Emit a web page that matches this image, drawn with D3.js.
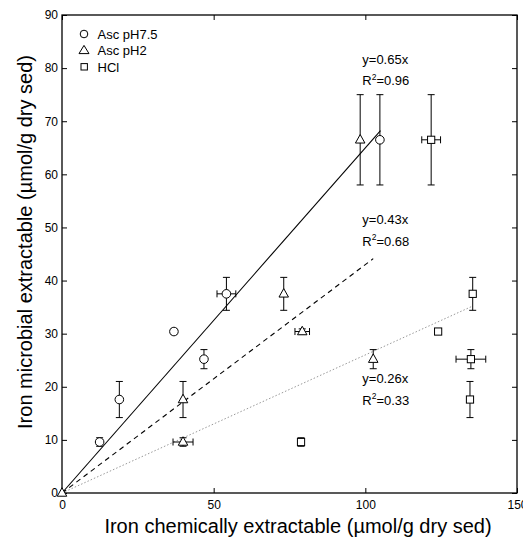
<!DOCTYPE html>
<html>
<head>
<meta charset="utf-8">
<script src="https://cdn.jsdelivr.net/npm/d3@7"></script>
<style>
  html, body { margin: 0; padding: 0; background: #fff; }
  svg { display: block; font-family: "Liberation Sans", Arial, Helvetica, sans-serif; }
</style>
</head>
<body>
<svg id="chart" width="523" height="538"></svg>
<script>
// Microbial vs chemical extractable iron, three extraction methods
const seriesNames = ["Asc pH7.5", "Asc pH2", "HCl"];
const seriesSymbols = ["circle", "triangle", "square"];

// microbial extractable (y) with its error, shared by the three methods
const microbialY   = [9.6, 17.6, 30.4, 25.2, 37.5, 66.5];
const microbialErr = [0.8, 3.4, 0.5, 1.8, 3.1, 8.5];

// chemically extractable (x) for each method, with x errors
const ascPH75X    = [12.4, 18.9, 36.9, 46.8, 54.2, 104.8];
const ascPH75XErr = [0, 0, 0, 0, 3.1, 0];
const ascPH2X     = [39.9, 39.9, 79.2, 102.6, 73.1, 98.3];
const ascPH2XErr  = [3.3, 0, 2.4, 0, 0, 0];
const hclX        = [78.8, 134.5, 124.0, 134.8, 135.4, 121.7];
const hclXErr     = [0, 1.0, 0, 4.9, 0, 3.1];

// fits through the origin
const fitSlopes = [0.65, 0.43, 0.26];
const fitR2     = ["0.96", "0.68", "0.33"];
const fitXEnd   = [105, 102.6, 135.4];
const fitLabelPos = [[99, 80.8], [99, 50.6], [99, 20.7]];

const xTicks = [0, 50, 100, 150];
const yTicks = [0, 10, 20, 30, 40, 50, 60, 70, 80, 90];

const svg = d3.select("#chart");
const m = { left: 62, right: 6, top: 15, bottom: 45 };
const W = 523, H = 538;
const x = d3.scaleLinear().domain([0, 150]).range([m.left, W - m.right]);
const y = d3.scaleLinear().domain([0, 90]).range([H - m.bottom, m.top]);

// frame
svg.append("rect")
  .attr("x", x(0)).attr("y", y(90))
  .attr("width", x(150) - x(0)).attr("height", y(0) - y(90))
  .attr("fill", "none").attr("stroke", "#000").attr("stroke-width", 1.3);

// axes with inward ticks (mirrored on top/right)
const tickLen = 5;
const gx = svg.append("g").attr("transform", `translate(0,${y(0)})`)
  .call(d3.axisBottom(x).tickValues(xTicks).tickSizeInner(-tickLen).tickSizeOuter(0).tickPadding(7));
const gy = svg.append("g").attr("transform", `translate(${x(0)},0)`)
  .call(d3.axisLeft(y).tickValues(yTicks).tickSizeInner(-tickLen).tickSizeOuter(0).tickPadding(4));
const gxt = svg.append("g").attr("transform", `translate(0,${y(90)})`)
  .call(d3.axisTop(x).tickValues(xTicks).tickSizeInner(-tickLen).tickSizeOuter(0).tickFormat(""));
const gyr = svg.append("g").attr("transform", `translate(${x(150)},0)`)
  .call(d3.axisRight(y).tickValues(yTicks).tickSizeInner(-tickLen).tickSizeOuter(0).tickFormat(""));
[gx, gy, gxt, gyr].forEach(g => {
  g.select(".domain").remove();
  g.selectAll("line").attr("stroke", "#000").attr("stroke-width", 1);
  g.selectAll("text").attr("font-size", 12).attr("fill", "#000")
    .attr("font-family", "Liberation Sans, Arial, sans-serif");
});

// axis titles
svg.append("text")
  .attr("x", 298).attr("y", 533)
  .attr("text-anchor", "middle").attr("font-size", 20)
  .text("Iron chemically extractable (\u00b5mol/g dry sed)");
svg.append("text")
  .attr("transform", `translate(32,242) rotate(-90)`)
  .attr("text-anchor", "middle").attr("font-size", 20)
  .text("Iron microbial extractable (\u00b5mol/g dry sed)");

// regression lines
const lineStyles = [
  { dash: null, color: "#000", width: 1.1 },
  { dash: "5,4", color: "#000", width: 1.1 },
  { dash: "1.5,2", color: "#999", width: 1 }
];
fitSlopes.forEach((s, i) => {
  svg.append("line")
    .attr("x1", x(0)).attr("y1", y(0))
    .attr("x2", x(fitXEnd[i])).attr("y2", y(s * fitXEnd[i]))
    .attr("stroke", lineStyles[i].color)
    .attr("stroke-width", lineStyles[i].width)
    .attr("stroke-dasharray", lineStyles[i].dash);
});

// fit annotations
fitSlopes.forEach((s, i) => {
  const [lx, ly] = fitLabelPos[i];
  svg.append("text").attr("x", x(lx)).attr("y", y(ly))
    .attr("font-size", 13).text(`y=${s}x`);
  const t = svg.append("text").attr("x", x(lx)).attr("y", y(ly) + 21.5).attr("font-size", 13);
  t.append("tspan").text("R");
  t.append("tspan").attr("font-size", 8.5).attr("dy", -5.5).text("2");
  t.append("tspan").attr("dy", 5.5).text(`=${fitR2[i]}`);
});

// symbol drawing helper
function drawSymbol(g, type, cx, cy) {
  if (type === "circle") {
    g.append("circle").attr("cx", cx).attr("cy", cy).attr("r", 4.3);
  } else if (type === "triangle") {
    const h = 8.5, w = 9.5;
    g.append("path").attr("d", `M${cx},${cy - h * 0.62}L${cx + w / 2},${cy + h * 0.38}L${cx - w / 2},${cy + h * 0.38}Z`);
  } else {
    g.append("rect").attr("x", cx - 3.6).attr("y", cy - 3.6).attr("width", 7.2).attr("height", 7.2);
  }
}

const seriesX = [ascPH75X, ascPH2X, hclX];
const seriesXErr = [ascPH75XErr, ascPH2XErr, hclXErr];
const cap = 3.5;

seriesX.forEach((xs, si) => {
  const g = svg.append("g").attr("stroke", "#000").attr("stroke-width", 1).attr("fill", "#fff");
  xs.forEach((xv, i) => {
    const cx = x(xv), cy = y(microbialY[i]);
    const ye = microbialErr[i], xe = seriesXErr[si][i];
    if (ye > 0) {
      const y1 = y(microbialY[i] + ye), y2 = y(microbialY[i] - ye);
      g.append("line").attr("x1", cx).attr("x2", cx).attr("y1", y1).attr("y2", y2);
      g.append("line").attr("x1", cx - cap).attr("x2", cx + cap).attr("y1", y1).attr("y2", y1);
      g.append("line").attr("x1", cx - cap).attr("x2", cx + cap).attr("y1", y2).attr("y2", y2);
    }
    if (xe > 0) {
      const x1 = x(xv - xe), x2 = x(xv + xe);
      g.append("line").attr("x1", x1).attr("x2", x2).attr("y1", cy).attr("y2", cy);
      g.append("line").attr("x1", x1).attr("x2", x1).attr("y1", cy - cap).attr("y2", cy + cap);
      g.append("line").attr("x1", x2).attr("x2", x2).attr("y1", cy - cap).attr("y2", cy + cap);
    }
    drawSymbol(g, seriesSymbols[si], cx, cy);
  });
});

// origin point
const og = svg.append("g").attr("stroke", "#000").attr("stroke-width", 1).attr("fill", "#fff");
drawSymbol(og, "triangle", x(0), y(0));

// legend
const lg = svg.append("g");
seriesNames.forEach((name, i) => {
  const ly = 34 + i * 16.4;
  const sg = lg.append("g").attr("stroke", "#000").attr("stroke-width", 1).attr("fill", "#fff");
  if (seriesSymbols[i] === "circle") sg.append("circle").attr("cx", 84).attr("cy", ly).attr("r", 3.8);
  else if (seriesSymbols[i] === "triangle") sg.append("path").attr("d", `M84,${ly - 5}L89,${ly + 3.2}L79,${ly + 3.2}Z`);
  else sg.append("rect").attr("x", 81).attr("y", ly - 3.2).attr("width", 6.4).attr("height", 6.4);
  lg.append("text").attr("x", 97.5).attr("y", ly + 4.7).attr("font-size", 13).text(name);
});
</script>
</body>
</html>
